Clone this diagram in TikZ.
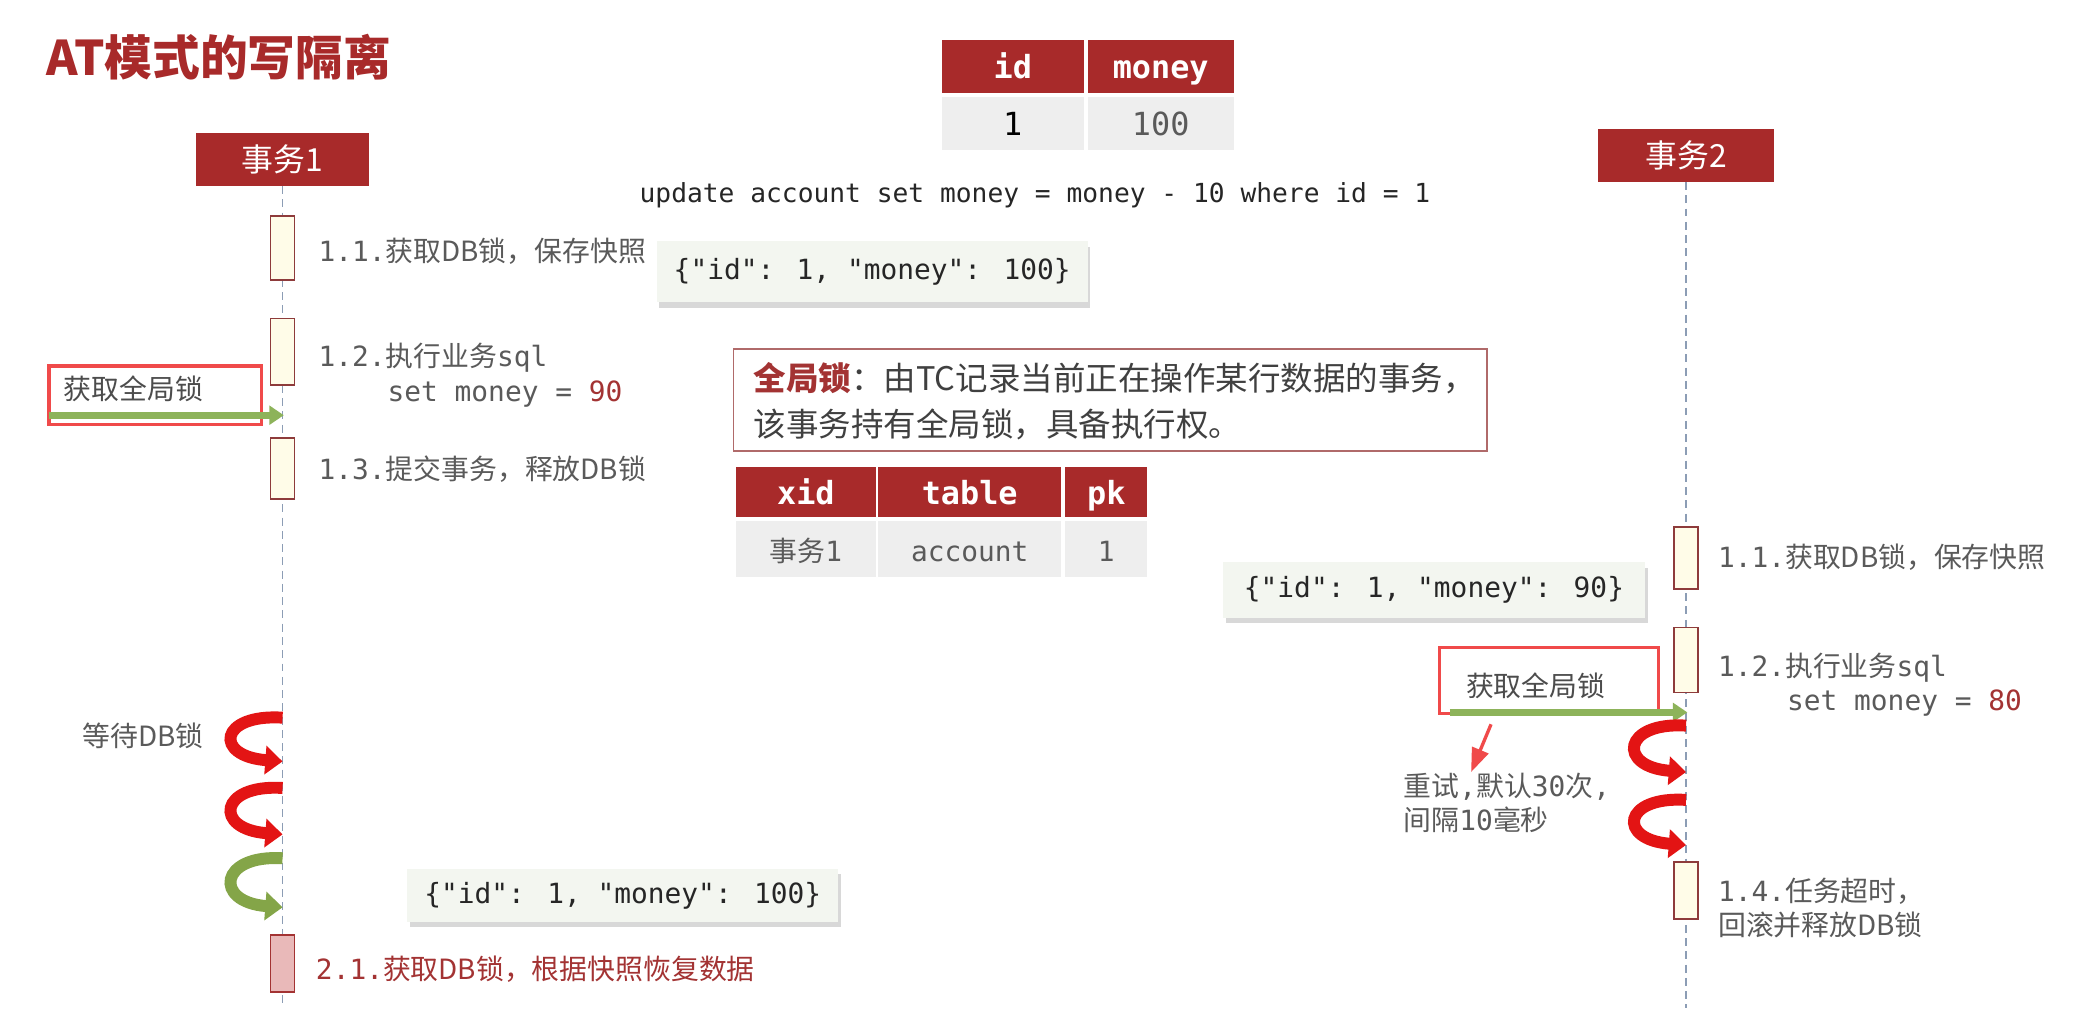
\documentclass[tikz,border=0pt]{standalone}
\usepackage{fontspec}
\setmainfont{Noto Sans CJK SC}
\newfontfamily\monof{DejaVu Sans Mono}
\usetikzlibrary{arrows.meta,shadows}
\definecolor{dred}{HTML}{A82A2A}
\definecolor{txtgray}{HTML}{5A5A5A}
\definecolor{actfill}{HTML}{FFFCE8}
\definecolor{actline}{HTML}{8E3B3B}
\definecolor{pinkfill}{HTML}{E9B9B9}
\definecolor{bodygray}{HTML}{EEEEEE}
\definecolor{jsonfill}{HTML}{F3F6F0}
\definecolor{callred}{HTML}{F04A4A}
\definecolor{lifeblue}{HTML}{8C9DB5}
\definecolor{agreen}{HTML}{8DB35A}
\definecolor{cgreen}{HTML}{84A548}
\definecolor{cred}{HTML}{E31414}
\definecolor{notered}{HTML}{B06A6A}
\definecolor{redtxt}{HTML}{A33333}
\newcommand\mm[1]{{\monof #1}}
\newcommand\mycurvarr[4]{%
  \draw[line width=9pt, draw=#4, -{Triangle[width=21pt,length=13pt]}]
    (#1,#2+6) .. controls (#1-48,#2+3) and (#1-52,#2+#3-14) .. (#1,#2+#3-10);}
\tikzset{
  hdr/.style={fill=dred, text=white, inner sep=0pt, minimum height=40pt, font=\fontsize{24}{28}\selectfont},
  act/.style={draw=actline, fill=actfill, line width=1.3pt, minimum width=18pt, inner sep=0pt},
  steptxt/.style={text=txtgray, anchor=west, inner sep=0pt, font=\fontsize{21}{25}\selectfont},
  lifeline/.style={draw=lifeblue, dash pattern=on 6pt off 4pt, line width=1pt},
  json/.style={fill=jsonfill, inner sep=0pt, text=black!85, font=\monof\fontsize{21}{25}\selectfont,
     drop shadow={shadow xshift=2pt, shadow yshift=-4pt, fill=black!30, opacity=0.5}},
  cell/.style={inner sep=0pt, text height=20pt, text depth=2pt},
  thdr/.style={cell, fill=dred, text=white, font=\monof\bfseries\fontsize{24}{28}\selectfont},
  tbody/.style={cell, fill=bodygray, text=txtgray, font=\monof\fontsize{21}{25}\selectfont},
  callbox/.style={draw=callred, line width=2.5pt, inner sep=0pt},
  garrow/.style={draw=agreen, line width=5pt, -{Triangle[width=14pt,length=11pt]}},
}
\begin{document}
\begin{tikzpicture}[x=1pt,y=-1pt]
\useasboundingbox[fill=white] (0,0) rectangle (1568,760);

% title
\node[anchor=west, inner sep=0pt, text=dred, font=\bfseries\fontsize{36}{42}\selectfont] (title) at (35,43) {AT模式的写隔离};

% participants and lifelines
\node[hdr, minimum width=130pt] (t1) at (213,120) {事务1};
\node[hdr, minimum width=132pt] (t2) at (1271,117) {事务2};
\coordinate (t1end) at (213,760);
\coordinate (t2end) at (1271,760);
\draw[lifeline] (t1.south) -- (t1end);
\draw[lifeline] (t2.south) -- (t2end);

% top data table
\node[thdr, minimum width=107pt, minimum height=40pt] (hid) at (763.5,50) {id};
\node[thdr, minimum width=110pt, minimum height=40pt] (hmoney) at (875,50) {money};
\node[tbody, minimum width=107pt, minimum height=40pt, text=black, font=\monof\fontsize{24}{28}\selectfont] (bid) at (763.5,93) {1};
\node[tbody, minimum width=110pt, minimum height=40pt, font=\monof\fontsize{24}{28}\selectfont] (bmoney) at (875,93) {100};

% sql
\node[anchor=west, inner sep=0pt, text=black!85, font=\monof\fontsize{19.8}{24}\selectfont] (sql) at (482,147) {update account set money = money - 10 where id = 1};

% activations, transaction 1
\node[act, minimum height=48pt] (a11) at (213,187) {};
\node[act, minimum height=50pt] (a12) at (213,265) {};
\node[act, minimum height=46pt] (a13) at (213,353) {};
\node[act, minimum height=43pt, fill=pinkfill, draw=redtxt] (a21) at (213,726.5) {};

% activations, transaction 2
\node[act, minimum height=47pt] (b11) at (1271,420.5) {};
\node[act, minimum height=49pt] (b12) at (1271,497.5) {};
\node[act, minimum height=43pt] (b14) at (1271,671.5) {};

% step texts, transaction 1
\node[steptxt] (s11) at (240,189) {\mm{1.1.}获取DB锁，保存快照};
\node[steptxt] (s12) at (240,270) {\mm{1.2.}执行业务\mm{sql}};
\node[steptxt] (s12b) at (292,297) {\mm{set money = \textcolor{redtxt}{90}}};
\node[steptxt] (s13) at (240,354) {\mm{1.3.}提交事务，释放DB锁};
\node[steptxt, text=redtxt] (s21) at (238,731) {\mm{2.1.}获取DB锁，根据快照恢复数据};

% step texts, transaction 2
\node[steptxt] (r11) at (1295,420) {\mm{1.1.}获取DB锁，保存快照};
\node[steptxt] (r12) at (1295,503) {\mm{1.2.}执行业务\mm{sql}};
\node[steptxt] (r12b) at (1347,530) {\mm{set money = \textcolor{redtxt}{80}}};
\node[steptxt] (r14) at (1295,672) {\mm{1.4.}任务超时，};
\node[steptxt] (r14b) at (1295,697) {回滚并释放DB锁};

% json snapshots
\node[json, minimum width=325pt, minimum height=46pt] (j1) at (657.5,205) {\{"id": 1, "money": 100\}};
\node[json, minimum width=318pt, minimum height=42pt] (j2) at (1081,445) {\{"id": 1, "money": 90\}};
\node[json, minimum width=325pt, minimum height=40pt] (j3) at (469.5,675) {\{"id": 1, "money": 100\}};

% global lock note
\node[draw=notered, line width=1pt, fill=white, minimum width=568pt, minimum height=77pt, inner sep=0pt] (note) at (837,301.5) {};
\node[anchor=west, inner sep=0pt, text=black!75, font=\fontsize{24.5}{29}\selectfont] (n1) at (568,285) {\textcolor{redtxt}{\bfseries 全局锁}：由TC记录当前正在操作某行数据的事务，};
\node[anchor=west, inner sep=0pt, text=black!75, font=\fontsize{24.5}{29}\selectfont] (n2) at (568,320) {该事务持有全局锁，具备执行权。};

% global lock table
\node[thdr, minimum width=105pt, minimum height=38pt] (hxid) at (607.5,371) {xid};
\node[thdr, minimum width=138pt, minimum height=38pt] (htable) at (731,371) {table};
\node[thdr, minimum width=62pt, minimum height=38pt] (hpk) at (834,371) {pk};
\node[tbody, minimum width=105pt, minimum height=42pt, font=\fontsize{21}{25}\selectfont] (bxid) at (607.5,414) {事务\mm{1}};
\node[tbody, minimum width=138pt, minimum height=42pt] (btable) at (731,414) {account};
\node[tbody, minimum width=62pt, minimum height=42pt] (bpk) at (834,414) {1};

% global lock callouts with green arrows
\node[callbox, minimum width=160pt, minimum height=44pt] (c1) at (117,298) {};
\node[steptxt, text=black!70] (c1t) at (48,293) {获取全局锁};
\coordinate (g1s) at (37,313);
\coordinate (g1e) at (214,313);
\draw[garrow] (g1s) -- (g1e);

\node[callbox, minimum width=165pt, minimum height=50pt] (c2) at (1167.5,513) {};
\node[steptxt, text=black!70] (c2t) at (1105,517) {获取全局锁};
\coordinate (g2s) at (1093,537);
\coordinate (g2e) at (1272,537);
\draw[garrow] (g2s) -- (g2e);

% retry annotation
\coordinate (w1) at (1124,546);
\coordinate (w2) at (1109,582);
\draw[draw=callred, line width=2.5pt, -{Triangle[width=13pt,length=18pt]}] (w1) -- (w2);
\node[steptxt, font=\fontsize{21}{25}\selectfont] (retry1) at (1058,593) {重试\mm{,}默认\mm{30}次\mm{,}};
\node[steptxt, font=\fontsize{21}{25}\selectfont] (retry2) at (1058,618) {间隔\mm{10}毫秒};

% waiting annotation
\node[steptxt] (wait) at (62,555) {等待DB锁};

% curved arrows, transaction 1
\mycurvarr{213}{535}{49}{cred}
\mycurvarr{213}{588}{51}{cred}
\mycurvarr{213}{641}{53}{cgreen}

% curved arrows, transaction 2
\mycurvarr{1271}{541}{51}{cred}
\mycurvarr{1271}{597}{50}{cred}
\end{tikzpicture}
\end{document}
